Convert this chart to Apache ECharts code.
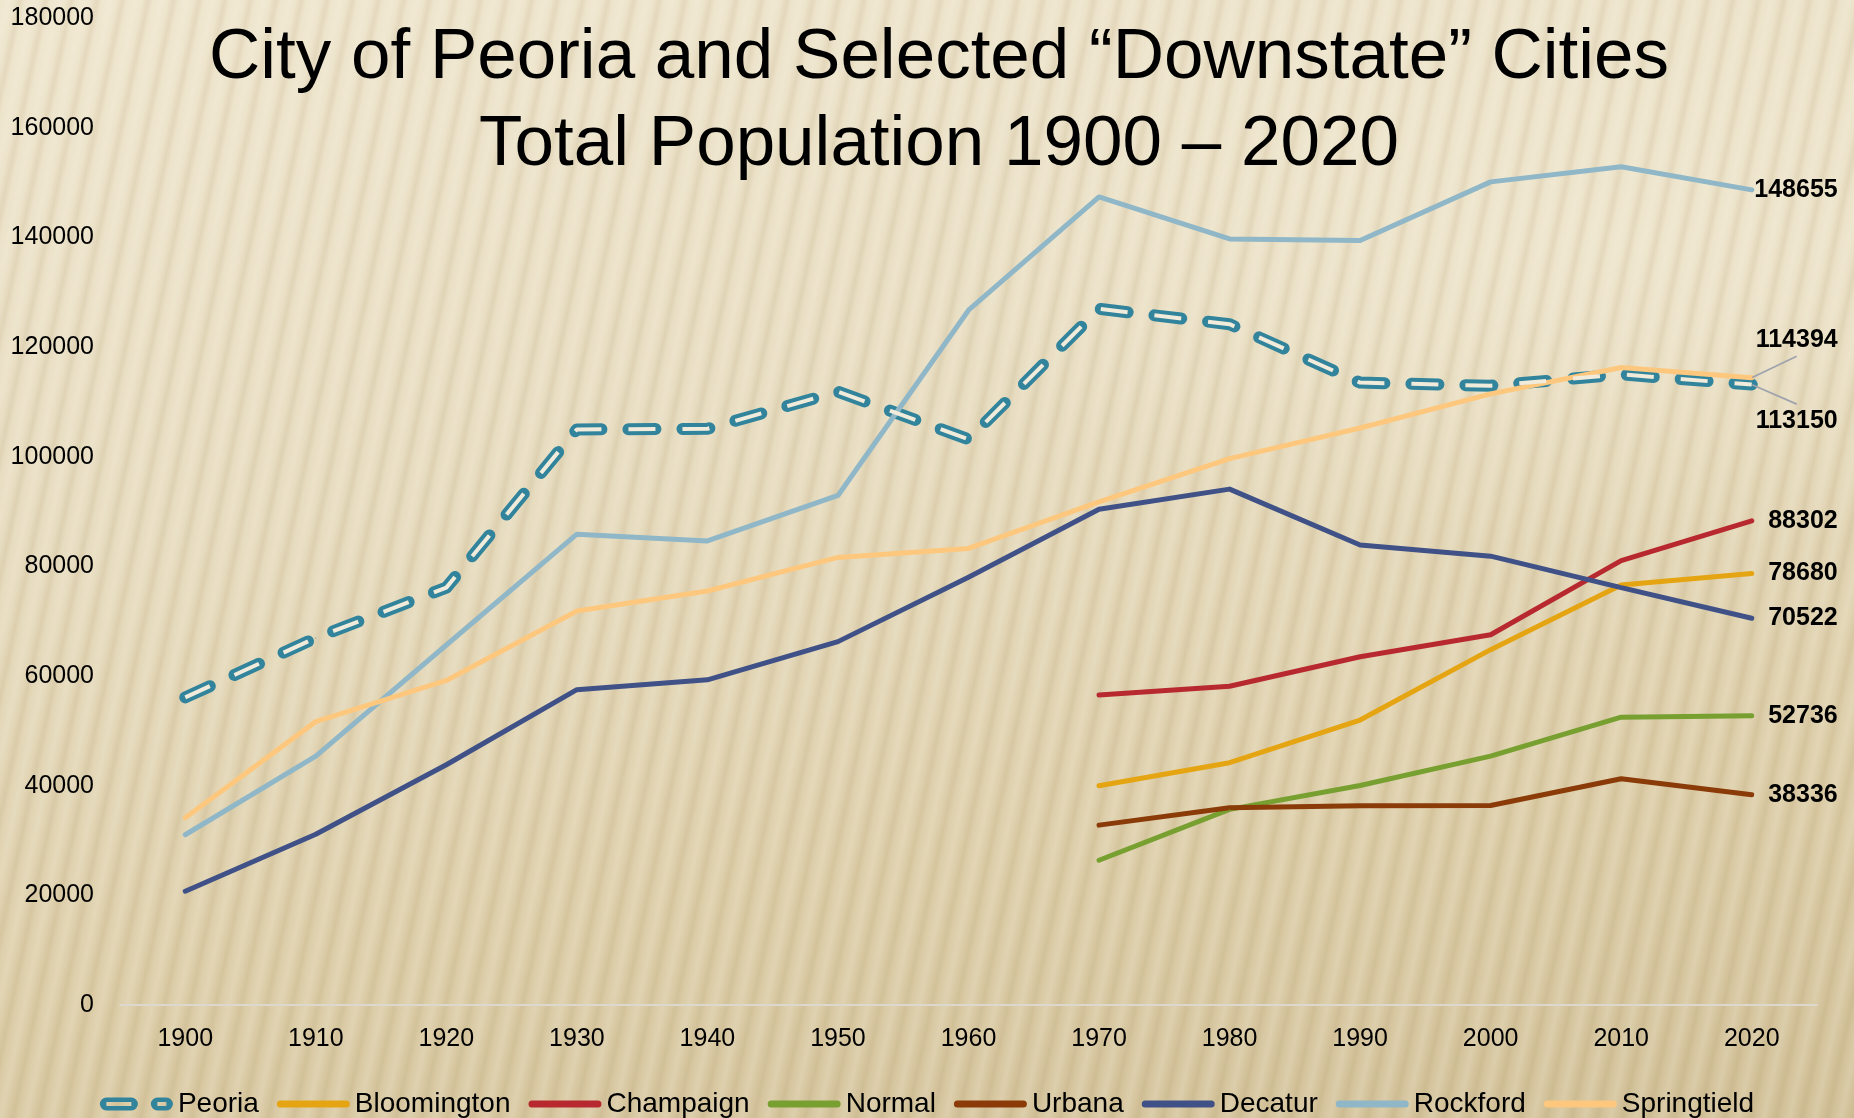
<!DOCTYPE html>
<html>
<head>
<meta charset="utf-8">
<script src="https://cdn.jsdelivr.net/npm/echarts@6/dist/echarts.min.js"></script>
<style>
  html, body { margin: 0; padding: 0; }
  /* beige textured slide background */
  body {
    width: 1854px;
    height: 1118px;
    overflow: hidden;
    background:
      repeating-linear-gradient(102deg, rgba(255,255,255,0) 0px, rgba(255,252,240,0.16) 8px, rgba(255,255,255,0) 14px, rgba(140,110,50,0.10) 20px, rgba(255,255,255,0) 25px),
      radial-gradient(ellipse 55% 40% at 88% 22%, rgba(255,250,235,0.25), rgba(255,250,235,0) 70%),
      linear-gradient(172deg, #EFE6CF 0%, #E7DCC0 40%, #DCCDA8 75%, #D2C199 100%);
  }
  #chart { width: 1854px; height: 1118px; }
</style>
</head>
<body>
<div id="chart"></div>
<script>
const years = ['1900', '1910', '1920', '1930', '1940', '1950', '1960', '1970', '1980', '1990', '2000', '2010', '2020'];

const peoria      = [56100, 66950, 76121, 104969, 105087, 111856, 103162, 126963, 124160, 113504, 112936, 115007, 113150];
const bloomington = [null, null, null, null, null, null, null, 39992, 44189, 51972, 64808, 76610, 78680];
const champaign   = [null, null, null, null, null, null, null, 56532, 58133, 63502, 67518, 81055, 88302];
const normal      = [null, null, null, null, null, null, null, 26396, 35672, 40023, 45386, 52497, 52736];
const urbana      = [null, null, null, null, null, null, null, 32800, 35978, 36344, 36395, 41250, 38336];
const decatur     = [20754, 31140, 43818, 57510, 59305, 66269, 78004, 90397, 94081, 83885, 81860, 76122, 70522];
const rockford    = [31051, 45401, 65651, 85864, 84637, 92927, 126706, 147370, 139712, 139426, 150115, 152871, 148655];
const springfield = [34159, 51678, 59183, 71864, 75503, 81628, 83271, 91753, 99637, 105227, 111454, 116250, 114394];

const yTicks = { min: 0, max: 180000, step: 20000 };

const FONT = '"Liberation Sans", Arial, sans-serif';

const cities = [
  { name: 'Peoria',      data: peoria,      color: '#31849B' },
  { name: 'Bloomington', data: bloomington, color: '#E5A512' },
  { name: 'Champaign',   data: champaign,   color: '#B8292F' },
  { name: 'Normal',      data: normal,      color: '#77A030' },
  { name: 'Urbana',      data: urbana,      color: '#8A3B08' },
  { name: 'Decatur',     data: decatur,     color: '#3F5186' },
  { name: 'Rockford',    data: rockford,    color: '#8FB7C7' },
  { name: 'Springtield', data: springfield, color: '#FDC87E' }
];

// end labels pushed off their point with a leader line;
// the transparent padded box makes the guide line meet the middle of the label edge
const labelShift = {
  Peoria:      { dx: 126, dy: 37,  padding: [10, 40, 0, 40] },
  Springtield: { dx: 126, dy: -38, padding: [0, 40, 8, 40] }
};

// legend icons: thin rounded bar, and the hollow double dash for Peoria
const BAR_ICON = 'path://M0 0L0.01 0L0.01 0.01Z M73 13L72.99 13L72.99 12.99Z M3.5 3L69.5 3A3.5 3.5 0 0 1 69.5 10L3.5 10A3.5 3.5 0 0 1 3.5 3Z';
const PEORIA_ICON = 'path://M6.5 0L31.5 0A6.5 6.5 0 0 1 31.5 13L6.5 13A6.5 6.5 0 0 1 6.5 0Z M6.5 4.5L6.5 8.5L31.5 8.5L31.5 4.5Z ' +
  'M57.5 0L66.5 0A6.5 6.5 0 0 1 66.5 13L57.5 13A6.5 6.5 0 0 1 57.5 0Z M57.5 4.5L57.5 8.5L66.5 8.5L66.5 4.5Z';

const chart = echarts.init(document.getElementById('chart'));

// only the last point carries a label
function withEndLabel(arr) {
  return arr.map((v, i) => i === arr.length - 1 ? { value: v, label: { show: true } } : v);
}

const series = [];
cities.forEach(c => {
  const isPeoria = c.name === 'Peoria';
  const shift = labelShift[c.name];
  series.push({
    name: c.name,
    type: 'line',
    z: 2,
    data: withEndLabel(c.data),
    symbol: 'circle',
    symbolSize: 1,
    showSymbol: true,
    itemStyle: { color: c.color },
    lineStyle: {
      color: c.color,
      width: isPeoria ? 12 : 5,
      type: isPeoria ? [27, 27] : 'solid',
      cap: 'round',
      join: 'round'
    },
    label: {
      show: false,
      position: 'inside',
      align: 'right',
      verticalAlign: 'middle',
      offset: [86, 0],
      padding: shift ? shift.padding : 0,
      backgroundColor: shift ? 'rgba(0,0,0,0)' : null,
      color: '#000',
      fontFamily: FONT,
      fontWeight: 'bold',
      fontSize: 25,
      formatter: p => String(p.value)
    },
    labelLayout: shift ? { dx: shift.dx, dy: shift.dy } : null,
    labelLine: {
      show: !!shift,
      lineStyle: { color: '#9EA3AE', width: 1.8 }
    },
    emphasis: { disabled: true },
    animation: false
  });
  if (isPeoria) {
    // light core of the double-line dashes
    series.push({
      name: 'Peoria core',
      type: 'line',
      z: 3,
      data: c.data,
      symbol: 'none',
      silent: true,
      lineStyle: { color: '#F1EBDB', width: 4, type: [27, 27], cap: 'butt', join: 'round' },
      emphasis: { disabled: true },
      animation: false
    });
  }
});

const option = {
  animation: false,
  title: {
    text: 'City of Peoria and Selected \u201cDownstate\u201d Cities\nTotal Population 1900 \u2013 2020',
    left: 934,
    textAlign: 'center',
    top: 10,
    textStyle: {
      fontFamily: FONT,
      fontSize: 71,
      fontWeight: 'normal',
      color: '#000',
      lineHeight: 87
    }
  },
  legend: {
    data: cities.map(c => ({ name: c.name, icon: c.name === 'Peoria' ? PEORIA_ICON : BAR_ICON })),
    top: 1085,
    left: 'center',
    itemWidth: 73,
    itemHeight: 13,
    itemGap: 18,
    itemStyle: { borderWidth: 0, borderColor: 'rgba(0,0,0,0)' },
    lineStyle: { color: 'rgba(0,0,0,0)', type: 'solid' },
    textStyle: { fontFamily: FONT, fontSize: 28, color: '#000' }
  },
  grid: { left: 120, right: 37, top: 18, bottom: 113 },
  xAxis: {
    type: 'category',
    data: years,
    boundaryGap: true,
    axisTick: { show: false },
    axisLine: { show: true, lineStyle: { color: '#DCD8CE', width: 2 } },
    axisLabel: { color: '#000', fontFamily: FONT, fontSize: 25, margin: 22 },
    splitLine: { show: false }
  },
  yAxis: {
    type: 'value',
    min: yTicks.min,
    max: yTicks.max,
    interval: yTicks.step,
    axisLine: { show: false },
    axisTick: { show: false },
    splitLine: { show: false },
    axisLabel: { color: '#000', fontFamily: FONT, fontSize: 25, margin: 26, formatter: v => String(v) }
  },
  series: series
};

chart.setOption(option);
</script>
</body>
</html>
